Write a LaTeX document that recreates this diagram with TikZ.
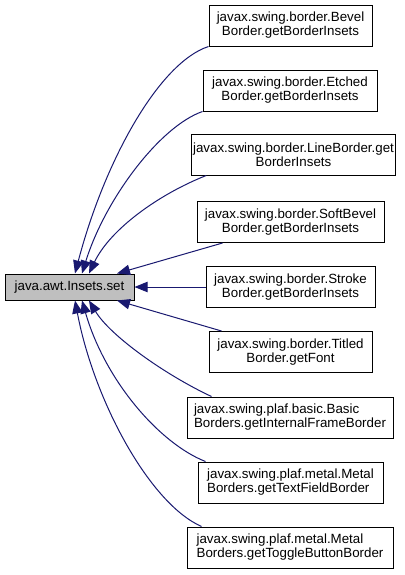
\documentclass[tikz,border=0pt]{standalone}
\usepackage{fontspec}
\setmainfont{Liberation Sans}
\usetikzlibrary{arrows.meta,calc}
\definecolor{dxedge}{HTML}{191970}
\definecolor{dxgray}{HTML}{BFBFBF}
\tikzset{
  member/.style={rectangle,draw=black,fill=white,line width=.75pt,minimum height=41*.75pt,inner sep=1pt,font=\fontsize{10pt}{10.5pt}\selectfont,align=center},
  current/.style={member,fill=dxgray,minimum height=26*.75pt},
  wd/.style={minimum width=#1*.75pt},
  edge/.style={draw=dxedge,line width=.75pt,-{Triangle[length=9.75pt,width=7.75pt]}},
}

\begin{document}
\begin{tikzpicture}[x=.75pt,y=-.75pt]
  \path[use as bounding box] (0,0) rectangle (404,575);
  \fill[white] (0,0) rectangle (404,575);
  \node[current,wd=129] (set) at (69.5,287) {java.awt.Insets.set};
  \node[member,wd=163] (bevel) at (290.5,25.5) {javax.swing.border.Bevel\\Border.getBorderInsets};
  \node[member,wd=174] (etched) at (290,90.5) {javax.swing.border.Etched\\Border.getBorderInsets};
  \node[member,wd=201] (line) at (293.5,154.5) {javax.swing.border.LineBorder.get\\BorderInsets};
  \node[member,wd=187] (soft) at (290.5,222) {javax.swing.border.SoftBevel\\Border.getBorderInsets};
  \node[member,wd=169] (stroke) at (290.5,287) {javax.swing.border.Stroke\\Border.getBorderInsets};
  \node[member,wd=163] (titled) at (290.5,352) {javax.swing.border.Titled\\Border.getFont};
  \node[member,wd=206,align=left] (basic) at (290,417.5) {javax.swing.plaf.basic.Basic\\Borders.getInternalFrameBorder};
  \node[member,wd=185,align=left] (textfield) at (290.5,482.5) {javax.swing.plaf.metal.Metal\\Borders.getTextFieldBorder};
  \node[member,wd=206,align=left] (toggle) at (290,547.5) {javax.swing.plaf.metal.Metal\\Borders.getToggleButtonBorder};
  \draw[edge] (bevel.south west) .. controls +(-49,16) and +(30,-114) .. ($(set.north)+(5.5,0)$);
  \draw[edge] (etched.south west) .. controls +(-43,15) and +(23,-74) .. ($(set.north)+(12.5,0)$);
  \draw[edge] ($(line.south west)+(15,0)$) .. controls +(-48,19) and +(21,-44) .. ($(set.north)+(19.5,0)$);
  \draw[edge] ($(soft.south west)+(26,0)$) -- ($(set.north)+(47.5,0)$);
  \draw[edge] (stroke.west) -- (set.east);
  \draw[edge] ($(titled.north west)+(13,0)$) -- ($(set.south)+(47.5,0)$);
  \draw[edge] ($(basic.north west)+(25,0)$) .. controls +(-47,-22) and +(21,35) .. ($(set.south)+(19.5,0)$);
  \draw[edge] ($(textfield.north west)+(8,0)$) .. controls +(-46,-18) and +(23,80) .. ($(set.south)+(12.5,0)$);
  \draw[edge] ($(toggle.north west)+(15,0)$) .. controls +(-52,-23) and +(19,100) .. ($(set.south)+(5.5,0)$);
\end{tikzpicture}
\end{document}
